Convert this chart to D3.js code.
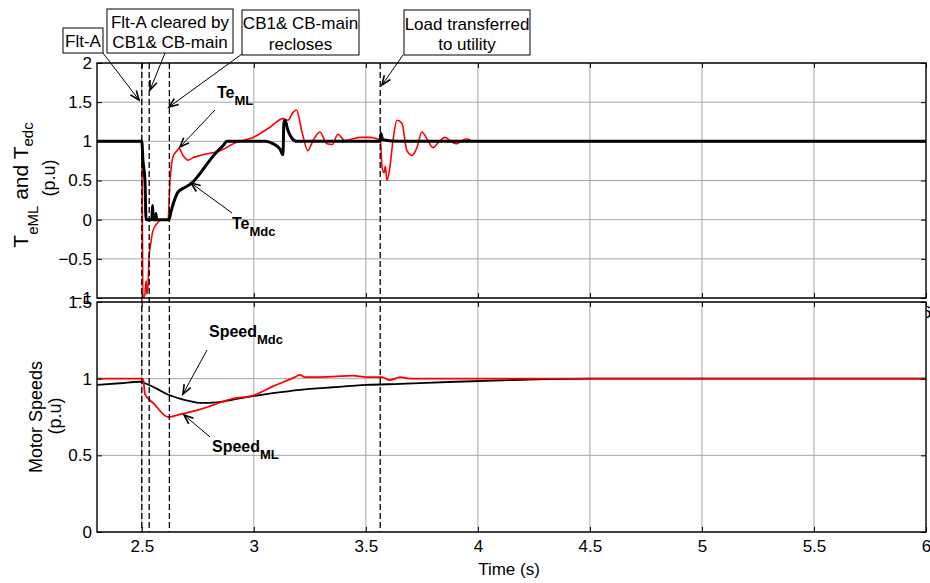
<!DOCTYPE html>
<html><head><meta charset="utf-8">
<script src="https://cdn.jsdelivr.net/npm/d3@7"></script>
<style>
body{margin:0;background:#fff}
text{font-family:"Liberation Sans",Arial,Helvetica,sans-serif;fill:#000}
</style>
</head><body>
<svg id="c" width="930" height="583"></svg>
<script>
// ---------- data ----------
const xTicks = [2.5, 3, 3.5, 4, 4.5, 5, 5.5, 6];
const teTicks = [-1, -0.5, 0, 0.5, 1, 1.5, 2];
const spTicks = [0, 0.5, 1, 1.5];
const eventTimes = [2.5, 2.533, 2.623, 3.564];

const teMLTime = [2.3,2.5,2.505,2.514,2.519,2.523,2.528,2.532,2.540,2.550,2.568,2.581,2.617,2.626,2.639,2.657,2.666,2.684,2.706,2.728,2.760,2.849,2.925,2.996,3.072,3.130,3.152,3.175,3.190,3.215,3.241,3.264,3.295,3.326,3.350,3.375,3.407,3.440,3.474,3.518,3.554,3.565,3.572,3.581,3.587,3.594,3.607,3.621,3.639,3.661,3.683,3.706,3.728,3.750,3.777,3.799,3.831,3.853,3.884,3.906,3.929,3.951,3.980,6.0];
const teMLVal  = [1.0,1.0,-1.0,-0.95,-0.78,-0.95,-0.82,-0.5,-0.3,-0.14,-0.05,-0.01,0.0,0.5,0.8,0.88,0.91,0.82,0.76,0.79,0.82,0.88,0.99,1.05,1.18,1.29,1.27,1.37,1.40,1.12,0.88,1.01,1.12,0.97,0.96,1.09,1.01,1.03,1.05,1.05,1.03,1.02,0.67,0.6,0.68,0.5,0.67,1.01,1.27,1.23,0.88,0.82,0.92,1.12,1.01,0.92,1.01,1.05,0.99,0.97,1.01,1.03,1.0,1.0];

const teMdcTime = [2.3,2.5,2.505,2.514,2.519,2.545,2.548,2.551,2.560,2.563,2.566,2.621,2.630,2.640,2.661,2.692,2.724,2.760,2.804,2.830,2.864,2.880,3.050,3.085,3.117,3.130,3.134,3.139,3.152,3.170,3.192,3.563,3.567,3.575,3.650,6.0];
const teMdcVal  = [1.0,1.0,0.76,0.5,0.0,0.0,0.18,0.0,0.0,0.08,0.0,0.0,0.1,0.2,0.35,0.41,0.47,0.59,0.76,0.85,0.95,1.0,1.0,0.97,0.9,0.83,1.23,1.27,1.14,1.04,1.0,1.0,1.1,1.02,1.0,1.0];

const spMLTime = [2.3,2.5,2.507,2.514,2.529,2.551,2.618,2.678,2.760,2.907,2.996,3.085,3.183,3.206,3.228,3.280,3.353,3.440,3.504,3.572,3.607,3.652,3.697,6.0];
const spMLVal  = [1.0,1.0,0.99,0.90,0.87,0.84,0.75,0.77,0.80,0.87,0.89,0.95,1.01,1.025,1.01,1.01,1.013,1.02,1.01,1.01,0.99,1.01,1.0,1.0];

const spMdcTime = [2.3,2.403,2.492,2.514,2.566,2.611,2.670,2.715,2.760,2.834,2.907,2.983,3.085,3.206,3.353,3.504,3.652,3.900,4.200,4.500,6.0];
const spMdcVal  = [0.96,0.97,0.98,0.97,0.935,0.90,0.87,0.853,0.842,0.846,0.864,0.883,0.905,0.927,0.944,0.959,0.966,0.98,0.993,1.0,1.0];

// ---------- layout ----------
const svg = d3.select("#c");
const x = d3.scaleLinear([2.3, 6], [97, 926]);
const yTop = d3.scaleLinear([-1, 2], [298, 63]);
const yBot = d3.scaleLinear([0, 1.5], [532, 302]);
const L = 97, R = 926;

function panel(y, ticks, id) {
  const [y0, y1] = y.range();
  const g = svg.append("g");
  g.append("rect").attr("x", L).attr("y", y1).attr("width", R - L).attr("height", y0 - y1).attr("fill", "#fff");
  svg.append("clipPath").attr("id", id).append("rect")
    .attr("x", L).attr("y", y1).attr("width", R - L).attr("height", y0 - y1);
  g.append("g").selectAll("line").data(xTicks.filter(t => t < 6)).join("line")
    .attr("x1", d => x(d)).attr("x2", d => x(d)).attr("y1", y1).attr("y2", y0)
    .attr("stroke", "#a6a6a6").attr("stroke-width", 1);
  g.append("g").selectAll("line").data(ticks).join("line")
    .attr("x1", L).attr("x2", R).attr("y1", d => y(d)).attr("y2", d => y(d))
    .attr("stroke", "#a6a6a6").attr("stroke-width", 1);
  return g;
}

function axes(g, y, ticks) {
  const [y0, y1] = y.range();
  const ax = g.append("g").attr("transform", `translate(${L},0)`)
    .call(d3.axisLeft(y).tickValues(ticks).tickSize(-5).tickPadding(5).tickFormat(d3.format("")));
  ax.select(".domain").remove();
  ax.selectAll("text").attr("font-size", 17).attr("font-family", "Liberation Sans, Arial, sans-serif");
  const ar = g.append("g").attr("transform", `translate(${R},0)`)
    .call(d3.axisRight(y).tickValues(ticks).tickSize(-5).tickFormat(""));
  ar.select(".domain").remove();
  const at = g.append("g").attr("transform", `translate(0,${y1})`)
    .call(d3.axisTop(x).tickValues(xTicks).tickSize(-5).tickFormat(""));
  at.select(".domain").remove();
  const ab = g.append("g").attr("transform", `translate(0,${y0})`)
    .call(d3.axisBottom(x).tickValues(xTicks).tickSize(-5).tickPadding(8).tickFormat(d3.format("")));
  ab.select(".domain").remove();
  ab.selectAll("text").attr("font-size", 17).attr("font-family", "Liberation Sans, Arial, sans-serif");
  g.append("rect").attr("x", L).attr("y", y1).attr("width", R - L).attr("height", y0 - y1)
    .attr("fill", "none").attr("stroke", "#000").attr("stroke-width", 1.4);
}

// top panel
const gTop = panel(yTop, teTicks, "clipTop");
const lineTop = d3.line().x(d => x(d[0])).y(d => yTop(d[1])).curve(d3.curveMonotoneX);
gTop.append("path").datum(d3.zip(teMLTime, teMLVal)).attr("d", lineTop)
  .attr("fill", "none").attr("stroke", "#ff0000").attr("stroke-width", 1.6).attr("clip-path", "url(#clipTop)");
gTop.append("path").datum(d3.zip(teMdcTime, teMdcVal)).attr("d", lineTop)
  .attr("fill", "none").attr("stroke", "#000").attr("stroke-width", 3).attr("stroke-linejoin", "round")
  .attr("clip-path", "url(#clipTop)");
axes(gTop, yTop, teTicks);

// bottom panel (its white background hides the top panel's time labels)
const gBot = panel(yBot, spTicks, "clipBot");
const lineBot = d3.line().x(d => x(d[0])).y(d => yBot(d[1])).curve(d3.curveMonotoneX);
gBot.append("path").datum(d3.zip(spMdcTime, spMdcVal)).attr("d", lineBot)
  .attr("fill", "none").attr("stroke", "#000").attr("stroke-width", 1.8).attr("clip-path", "url(#clipBot)");
gBot.append("path").datum(d3.zip(spMLTime, spMLVal)).attr("d", lineBot)
  .attr("fill", "none").attr("stroke", "#ff0000").attr("stroke-width", 1.8).attr("clip-path", "url(#clipBot)");
axes(gBot, yBot, spTicks);

// event dashed lines
svg.append("g").selectAll("line").data(eventTimes).join("line")
  .attr("x1", d => x(d)).attr("x2", d => x(d)).attr("y1", 63).attr("y2", 532)
  .attr("stroke", "#000").attr("stroke-width", 1.3).attr("stroke-dasharray", "6,3");

// axis titles
const yl = svg.append("text").attr("transform", "translate(28,185) rotate(-90)")
  .attr("text-anchor", "middle").attr("font-size", 21);
yl.append("tspan").text("T");
yl.append("tspan").attr("font-size", 15).attr("dy", 10).text("eML");
yl.append("tspan").attr("dy", -10).text(" and T");
yl.append("tspan").attr("font-size", 15).attr("dy", 5).text("edc");
svg.append("text").attr("transform", "translate(55,178) rotate(-90)")
  .attr("text-anchor", "middle").attr("font-size", 18).text("(p.u)");
svg.append("text").attr("transform", "translate(42,417) rotate(-90)")
  .attr("text-anchor", "middle").attr("font-size", 18).text("Motor Speeds");
svg.append("text").attr("transform", "translate(61,416) rotate(-90)")
  .attr("text-anchor", "middle").attr("font-size", 18).text("(p.u)");
svg.append("text").attr("x", 509).attr("y", 575).attr("text-anchor", "middle")
  .attr("font-size", 17).text("Time (s)");

// arrows
function arrow(x1, y1, x2, y2) {
  const a = Math.atan2(y2 - y1, x2 - x1), h = 10, s = 0.38;
  svg.append("line").attr("x1", x1).attr("y1", y1).attr("x2", x2).attr("y2", y2)
    .attr("stroke", "#000").attr("stroke-width", 1);
  svg.append("path")
    .attr("d", `M${x2 - h*Math.cos(a - s)},${y2 - h*Math.sin(a - s)}L${x2},${y2}L${x2 - h*Math.cos(a + s)},${y2 - h*Math.sin(a + s)}`)
    .attr("fill", "none").attr("stroke", "#000").attr("stroke-width", 1.6);
}
arrow(103, 53, 139, 100);
arrow(165, 53, 150, 90);
arrow(242, 54, 169, 107);
arrow(403, 55, 382, 85);
arrow(215, 110, 180, 147);
arrow(232, 213, 191, 183);
arrow(207, 350, 183, 394);
arrow(210, 437, 184, 415);

// annotation boxes
function box(x0, y0, x1, y1, lines, baselines) {
  svg.append("rect").attr("x", x0).attr("y", y0).attr("width", x1 - x0).attr("height", y1 - y0)
    .attr("fill", "#fff").attr("stroke", "#000").attr("stroke-width", 1);
  lines.forEach((t, i) => svg.append("text").attr("x", (x0 + x1) / 2).attr("y", baselines[i])
    .attr("text-anchor", "middle").attr("font-size", 17).text(t));
}
box(63, 28, 103, 53, ["Flt-A"], [47]);
box(107, 9, 233, 53, ["Flt-A cleared by", "CB1& CB-main"], [28, 48]);
box(242, 10, 359, 55, ["CB1& CB-main", "recloses"], [29, 50]);
box(404, 10, 530, 55, ["Load transferred", "to utility"], [30, 50]);

// curve labels
function sublabel(x0, y0, main, sub) {
  const t = svg.append("text").attr("x", x0).attr("y", y0).attr("font-weight", "bold").attr("font-size", 16);
  t.append("tspan").text(main);
  t.append("tspan").attr("font-size", 13).attr("dy", 7).text(sub);
}
sublabel(217, 98, "Te", "ML");
sublabel(232, 229, "Te", "Mdc");
sublabel(209, 337, "Speed", "Mdc");
sublabel(212, 452, "Speed", "ML");
</script>
</body></html>
